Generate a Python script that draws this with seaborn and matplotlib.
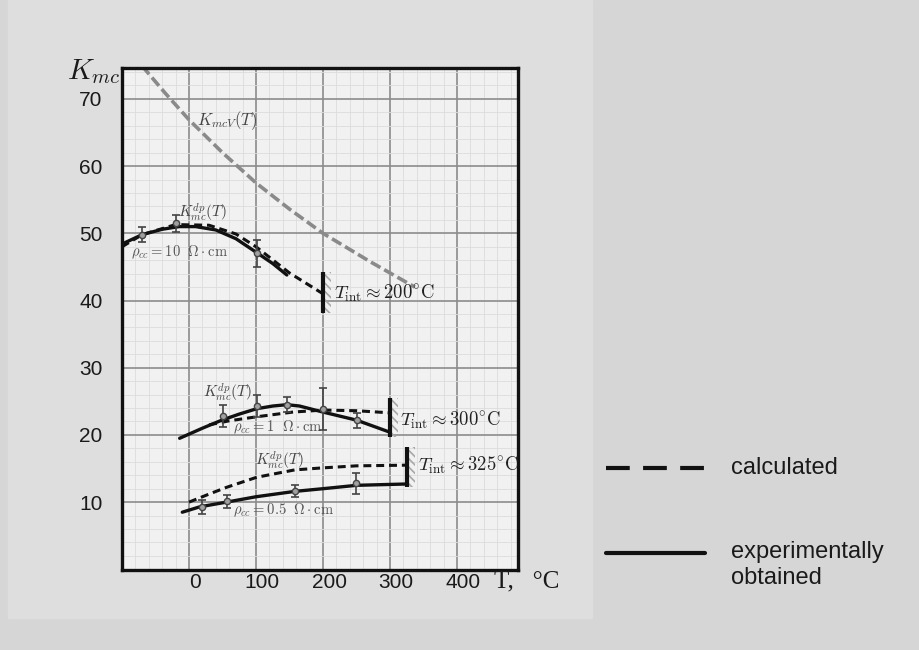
import matplotlib
matplotlib.use("Agg")
import matplotlib.pyplot as plt
from matplotlib.lines import Line2D
from matplotlib.patches import Rectangle
from matplotlib.ticker import MultipleLocator
from matplotlib.transforms import ScaledTranslation
import seaborn as sns

# K_mcV(T), calculated upper bound
t_kmcv = [-70, -35, 0, 50, 100, 150, 200, 270, 337]
k_kmcv = [74.9, 70.8, 66.9, 62.0, 57.5, 53.6, 50.0, 45.8, 42.0]

# rho_cc = 10 Ohm*cm
t_10_exp = [-100, -70, -40, -15, 10, 40, 70, 100, 125, 146]
k_10_exp = [48.4, 49.8, 50.6, 51.0, 51.0, 50.5, 49.2, 47.2, 45.5, 43.8]
t_10_calc = [-100, -70, -20, 30, 70, 100, 150, 200]
k_10_calc = [48.0, 49.8, 51.3, 51.2, 49.9, 48.0, 44.1, 41.0]
t_10_pts = [-70, -19, 101]
k_10_pts = [49.8, 51.5, 47.0]
e_10_pts = [1.1, 1.3, 2.0]

# rho_cc = 1 Ohm*cm
t_1_exp = [-14, 20, 49, 75, 101, 125, 146, 165, 200, 250, 300]
k_1_exp = [19.5, 21.0, 22.2, 23.1, 23.9, 24.3, 24.5, 24.3, 23.4, 22.2, 20.4]
t_1_calc = [30, 60, 101, 155, 200, 250, 298]
k_1_calc = [21.5, 22.1, 22.7, 23.4, 23.7, 23.6, 23.3]
t_1_pts = [50, 101, 146, 200, 250]
k_1_pts = [22.8, 24.3, 24.5, 23.9, 22.2]
e_1_pts = [1.6, 1.6, 1.1, 3.1, 1.1]

# rho_cc = 0.5 Ohm*cm
t_05_exp = [-10, 16, 56, 100, 158, 200, 250, 325]
k_05_exp = [8.5, 9.3, 10.0, 10.8, 11.6, 12.0, 12.5, 12.7]
t_05_calc = [0, 30, 56, 101, 158, 200, 250, 325]
k_05_calc = [10.0, 11.2, 12.2, 13.7, 14.8, 15.1, 15.4, 15.5]
t_05_pts = [19, 56, 158, 249]
k_05_pts = [9.3, 10.1, 11.6, 12.8]
e_05_pts = [1.0, 0.9, 0.9, 1.6]

# T_int markers: temperature, lower and upper end of the bar
t_int = [200, 300, 325]
k_int_lo = [38.2, 19.7, 12.2]
k_int_hi = [44.3, 25.5, 18.2]

x_ticks = [0, 100, 200, 300, 400]
y_ticks = [10, 20, 30, 40, 50, 60, 70]

sns.set_style("white")
plt.rcParams["font.family"] = ["Liberation Sans", "DejaVu Sans"]
plt.rcParams["mathtext.fontset"] = "cm"
plt.rcParams["hatch.linewidth"] = 1.2

fig = plt.figure(figsize=(9.2, 6.5), dpi=100, facecolor="#d6d6d6")
fig.patches.append(Rectangle((8 / 920, 1 - 618 / 650), 584 / 920, 618 / 650,
                             transform=fig.transFigure, color="#dedede", zorder=-5))
ax = fig.add_axes([122 / 920, 1 - 570 / 650, 396 / 920, 502 / 650])
ax.set_facecolor("#f1f1f1")

ink = "#111111"
dash = (0, (2.6, 1.6))

sns.lineplot(x=t_kmcv, y=k_kmcv, ax=ax, color="#8a8a8a", lw=2.6,
             linestyle=(0, (3.0, 1.2)), estimator=None, sort=False)

for t_e, k_e, t_c, k_c in [(t_10_exp, k_10_exp, t_10_calc, k_10_calc),
                           (t_1_exp, k_1_exp, t_1_calc, k_1_calc),
                           (t_05_exp, k_05_exp, t_05_calc, k_05_calc)]:
    sns.lineplot(x=t_e, y=k_e, ax=ax, color=ink, lw=2.4, estimator=None, sort=False)
    sns.lineplot(x=t_c, y=k_c, ax=ax, color=ink, lw=2.2, linestyle=dash,
                 estimator=None, sort=False)

# the 0.5 Ohm*cm experimental curve turns up into its T_int bar
sns.lineplot(x=[t_05_exp[-1], t_int[2]], y=[k_05_exp[-1], k_05_exp[-1]], ax=ax,
             color=ink, lw=2.4, estimator=None)

for t, k, e in [(t_10_pts, k_10_pts, e_10_pts), (t_1_pts, k_1_pts, e_1_pts),
                (t_05_pts, k_05_pts, e_05_pts)]:
    ax.errorbar(t, k, yerr=e, fmt="o", ms=4.5, mfc="#a0a0a0", mec="#444444",
                ecolor="#444444", elinewidth=1.2, capsize=3, capthick=1.2, zorder=4)

for t, lo, hi in zip(t_int, k_int_lo, k_int_hi):
    ax.fill_betweenx([lo, hi], t, t + 12, hatch="\\\\\\\\", facecolor="none",
                     edgecolor="#a8a8a8", linewidth=0, zorder=2)
    ax.vlines(t, lo, hi, color=ink, lw=3, zorder=5)

lbl = dict(color="#444444", fontsize=11)
ax.text(57, 66.7, r"$K_{mcV}(T)$", ha="center", va="center", color="#444444", fontsize=12)
ax.text(20, 53.0, r"$K_{mc}^{dp}(T)$", ha="center", va="center", **lbl)
ax.text(-86, 47.2, r"$\rho_{cc}=10\ \ \Omega\cdot\mathrm{cm}$", ha="left", va="center",
        color="#555555", fontsize=10.5)
ax.text(58, 26.2, r"$K_{mc}^{dp}(T)$", ha="center", va="center", **lbl)
ax.text(65, 21.2, r"$\rho_{cc}=1\ \ \Omega\cdot\mathrm{cm}$", ha="left", va="center",
        color="#555555", fontsize=10.5)
ax.text(135, 16.2, r"$K_{mc}^{dp}(T)$", ha="center", va="center", **lbl)
ax.text(65, 8.8, r"$\rho_{cc}=0.5\ \ \Omega\cdot\mathrm{cm}$", ha="left", va="center",
        color="#555555", fontsize=10.5)
for t, y, s in [(217, 41.1, "200"), (315, 22.2, "300"), (342, 15.5, "325")]:
    ax.text(t, y, r"$T_{\rm int}\approx " + s + r"^{\circ}\mathrm{C}$", ha="left",
            va="center", color="#222222", fontsize=13.5)

ax.set_xlim(-100, 491)
ax.set_ylim(-0.1, 74.6)
ax.set_xticks(x_ticks)
ax.set_yticks(y_ticks)
ax.xaxis.set_minor_locator(MultipleLocator(20))
ax.yaxis.set_minor_locator(MultipleLocator(2))
ax.grid(True, which="major", color="#8c8c8c", lw=1.2)
ax.grid(True, which="minor", color="#dcdcdc", lw=0.6)
ax.set_axisbelow(True)
ax.tick_params(which="both", length=0)
ax.tick_params(axis="x", labelsize=15, pad=2, labelcolor="#1a1a1a")
ax.tick_params(axis="y", labelsize=15, pad=14, labelcolor="#1a1a1a")
for t in ax.get_xticklabels():
    t.set_transform(t.get_transform() + ScaledTranslation(0.06, 0, fig.dpi_scale_trans))
for s in ax.spines.values():
    s.set_color(ink)
    s.set_linewidth(2.4)
ax.set_xlabel("")
ax.set_ylabel("")

fig.text(121 / 920, 1 - 72 / 650, r"$K_{mc}$", ha="right", va="center",
         fontsize=21, color="#1a1a1a")
fig.text(494 / 920, 1 - 581 / 650, "T,   °C", ha="left", va="center",
         fontsize=18, color="#1a1a1a", family=["Liberation Serif", "DejaVu Serif"])

# legend
fig.add_artist(Line2D([606 / 920, 705 / 920], [1 - 468 / 650] * 2, transform=fig.transFigure,
                      color=ink, lw=3, linestyle=(0, (5.7, 3.2))))
fig.add_artist(Line2D([606 / 920, 705 / 920], [1 - 553 / 650] * 2, transform=fig.transFigure,
                      color=ink, lw=3))
fig.text(731 / 920, 1 - 468 / 650, "calculated", ha="left", va="center",
         fontsize=17, color="#1a1a1a")
fig.text(731 / 920, 1 - 552 / 650, "experimentally\nobtained", ha="left", va="top",
         fontsize=17, color="#1a1a1a", linespacing=1.25,
         transform=fig.transFigure + ScaledTranslation(0, 0.11, fig.dpi_scale_trans))

fig.savefig("out.png", dpi=100, facecolor=fig.get_facecolor())
